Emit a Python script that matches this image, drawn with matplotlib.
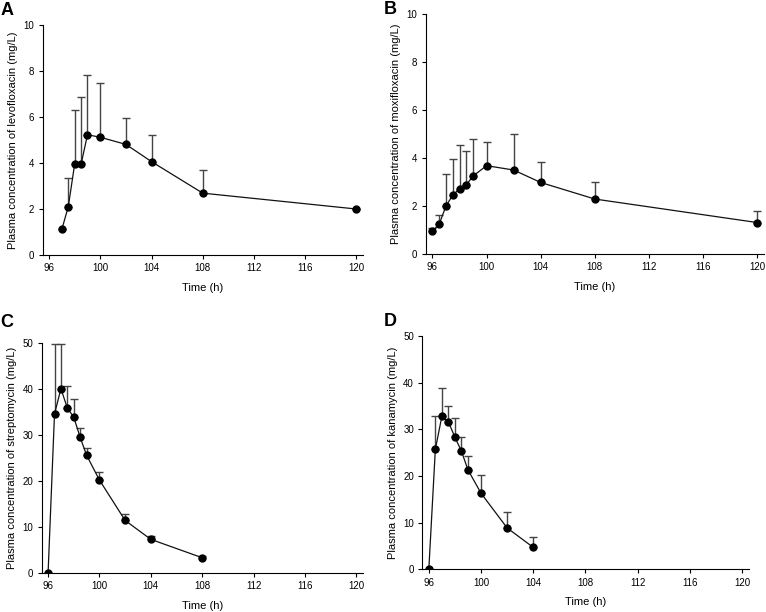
import matplotlib
matplotlib.use("Agg")
import matplotlib.pyplot as plt
import numpy as np

plt.rcParams['font.family'] = ['Liberation Sans', 'DejaVu Sans']

# panel A - levofloxacin
t_levo = [97, 97.5, 98, 98.5, 99, 100, 102, 104, 108, 120]
c_levo = [1.12, 2.1, 3.96, 3.95, 5.23, 5.12, 4.81, 4.06, 2.69, 2.0]
top_levo = [1.12, 3.33, 6.32, 6.85, 7.84, 7.5, 5.95, 5.23, 3.68, 2.0]

# panel B - moxifloxacin
t_moxi = [96, 96.5, 97, 97.5, 98, 98.5, 99, 100, 102, 104, 108, 120]
c_moxi = [0.95, 1.24, 2.0, 2.45, 2.72, 2.88, 3.25, 3.68, 3.5, 2.98, 2.29, 1.31]
top_moxi = [1.1, 1.63, 3.35, 3.96, 4.55, 4.31, 4.79, 4.68, 5.0, 3.85, 3.0, 1.79]

# panel C - streptomycin
t_strep = [96, 96.5, 97, 97.5, 98, 98.5, 99, 100, 102, 104, 108]
c_strep = [0, 34.6, 40.1, 35.9, 33.9, 29.5, 25.6, 20.2, 11.4, 7.27, 3.27]
top_strep = [0, 49.8, 49.8, 40.6, 37.8, 31.6, 27.2, 21.9, 12.7, 8.1, 3.6]

# panel D - kanamycin
t_kana = [96, 96.5, 97, 97.5, 98, 98.5, 99, 100, 102, 104]
c_kana = [0, 25.7, 32.8, 31.6, 28.3, 25.3, 21.3, 16.3, 8.86, 4.7]
top_kana = [0, 32.8, 38.9, 34.9, 32.4, 28.4, 24.2, 20.2, 12.3, 6.86]

xticks = [96, 100, 104, 108, 112, 116, 120]

panels = [
    ("A", [0.0557, 0.5833, 0.418, 0.3758], (-0.13, 1.1), t_levo, c_levo, top_levo, 10, 2, "levofloxacin"),
    ("B", [0.5557, 0.585, 0.4417, 0.392], (-0.123, 1.055), t_moxi, c_moxi, top_moxi, 10, 2, "moxifloxacin"),
    ("C", [0.0544, 0.0642, 0.419, 0.3748], (-0.13, 1.13), t_strep, c_strep, top_strep, 50, 10, "streptomycin"),
    ("D", [0.5513, 0.0698, 0.426, 0.3812], (-0.117, 1.1), t_kana, c_kana, top_kana, 50, 10, "kanamycin"),
]

fig = plt.figure(figsize=(7.66, 6.12), dpi=100)

for letter, pos, lpos, t, c, top, ymax, ystep, drug in panels:
    ax = fig.add_axes(pos)
    t = np.array(t)
    c = np.array(c)
    err = np.array(top) - c
    ax.errorbar(t, c, yerr=[np.zeros_like(c), err], fmt="none", ecolor="#444444",
                elinewidth=1.0, capsize=3, capthick=1.0, zorder=1)
    ax.plot(t, c, "-", color="#111111", lw=0.9, zorder=2)
    ax.plot(t, c, "o", color="black", ms=5, zorder=3)
    ax.set_xlim(95.5, 120.5)
    ax.set_ylim(0, ymax)
    ax.set_xticks(xticks)
    ax.set_yticks(np.arange(0, ymax + 1, ystep))
    ax.spines["top"].set_visible(False)
    ax.spines["right"].set_visible(False)
    ax.spines["left"].set_linewidth(0.8)
    ax.spines["bottom"].set_linewidth(0.8)
    ax.tick_params(direction="out", length=3, width=0.8, labelsize=7, pad=3)
    ax.set_xlabel("Time (h)", fontsize=8, labelpad=7)
    ax.set_ylabel("Plasma concentration of %s (mg/L)" % drug, fontsize=8, labelpad=4)
    ax.text(lpos[0], lpos[1], letter, transform=ax.transAxes,
            fontsize=13, fontweight="bold", ha="left", va="top")

fig.savefig("out.png", dpi=100)
